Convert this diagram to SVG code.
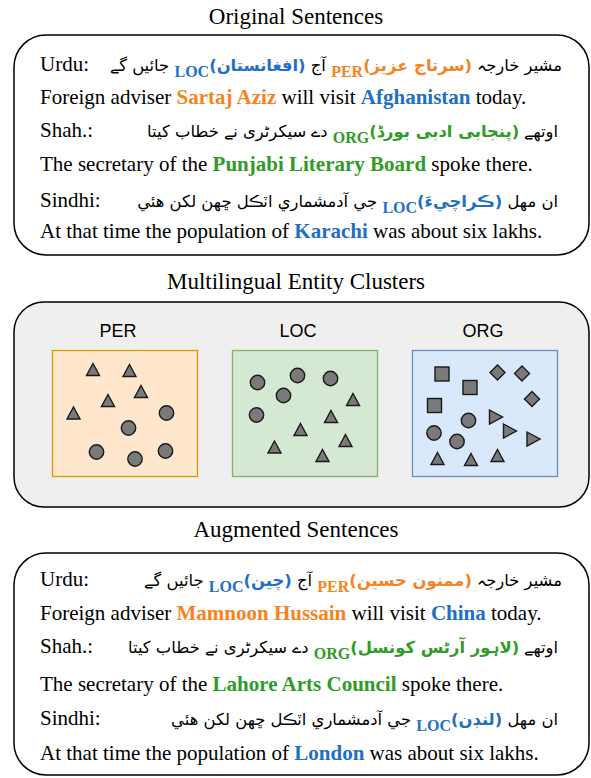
<svg xmlns="http://www.w3.org/2000/svg" xmlns:xlink="http://www.w3.org/1999/xlink" width="591" height="778" viewBox="0 0 591 778">
<style>
.title{font-family:"Liberation Serif",serif;font-size:23px;fill:#000;text-anchor:middle}
.en{font-family:"Liberation Serif",serif;font-size:21px;fill:#000}
.lab{font-family:"Liberation Serif",serif;font-size:21px;fill:#000}
.ar{font-family:"DejaVu Sans",sans-serif;font-size:16.4px;fill:#000;direction:rtl;text-anchor:start}
.b{font-weight:bold}
.sub{font-family:"Liberation Serif",serif;font-weight:bold;font-size:16px}
.o{fill:#f5841f}.bl{fill:#1f6fc4}.g{fill:#2e9c27}
.panel{fill:#fff;stroke:#000;stroke-width:1.5}
.gray{fill:#efefef;stroke:#000;stroke-width:1.5}
.cl{font-family:"Liberation Sans",sans-serif;font-size:18px;fill:#000;text-anchor:middle}
.sh{fill:#7a7a7a;stroke:#1a1a1a;stroke-width:1.4}
</style>
<defs>
<polygon id="tri" class="sh" points="0,-6.5 6.5,5.5 -6.5,5.5"/>
<circle id="cir" class="sh" r="7.2"/>
<rect id="sq" class="sh" x="-7" y="-7" width="14" height="14"/>
<polygon id="dia" class="sh" points="0,-7.5 7.5,0 0,7.5 -7.5,0"/>
<polygon id="rtri" class="sh" points="-6,-7 7,0 -6,7"/>
</defs>

<g id="original">
<text class="title" x="296" y="24">Original Sentences</text>
<rect class="panel" x="14" y="35" width="575" height="220" rx="32"/>
<text class="lab" x="40" y="71">Urdu:</text>
<text class="ar" x="562" y="71">مشیر خارجہ <tspan class="b o">(سرتاج عزیز)</tspan><tspan class="sub o" baseline-shift="-6">PER</tspan> آج <tspan class="b bl">(افغانستان)</tspan><tspan class="sub bl" baseline-shift="-6">LOC</tspan> جائیں گے</text>
<text class="en" x="40" y="104">Foreign adviser <tspan class="b o">Sartaj Aziz</tspan> will visit <tspan class="b bl">Afghanistan</tspan> today.</text>
<text class="lab" x="40" y="137">Shah.:</text>
<text class="ar" x="558" y="137">اوتھے <tspan class="b g">(پنجابی ادبی بورڈ)</tspan><tspan class="sub g" baseline-shift="-6">ORG</tspan> دے سیکرٹری نے خطاب کیتا</text>
<text class="en" x="40" y="171">The secretary of the <tspan class="b g">Punjabi Literary Board</tspan> spoke there.</text>
<text class="lab" x="40" y="207">Sindhi:</text>
<text class="ar" x="558" y="207">ان مهل <tspan class="b bl">(ڪراچيءَ)</tspan><tspan class="sub bl" baseline-shift="-6">LOC</tspan> جي آدمشماري اٽڪل ڇهن لکن هئي</text>
<text class="en" x="40" y="238">At that time the population of <tspan class="b bl">Karachi</tspan> was about six lakhs.</text>
</g>

<g id="clusters">
<text class="title" x="296" y="289">Multilingual Entity Clusters</text>
<rect class="gray" x="14" y="302" width="575" height="205" rx="30"/>
</g>

<g id="per">
<text class="cl" x="118" y="337">PER</text>
<rect x="52.5" y="350.5" width="145" height="126" fill="#ffe6cc" stroke="#d79b00" stroke-width="1.3"/>
<use href="#tri" x="93" y="370"/>
<use href="#tri" x="129.5" y="371"/>
<use href="#tri" x="141" y="392"/>
<use href="#tri" x="108" y="401"/>
<use href="#tri" x="73.5" y="413.5"/>
<use href="#cir" x="166.5" y="413"/>
<use href="#cir" x="128.5" y="428"/>
<use href="#cir" x="96.5" y="452"/>
<use href="#cir" x="135" y="459"/>
<use href="#cir" x="165.5" y="451"/>
</g>

<g id="loc">
<text class="cl" x="298" y="337">LOC</text>
<rect x="232.5" y="350.5" width="145" height="126" fill="#d5e8d4" stroke="#82b366" stroke-width="1.3"/>
<use href="#cir" x="257.5" y="382.5"/>
<use href="#cir" x="297.5" y="375.5"/>
<use href="#cir" x="330.5" y="378.5"/>
<use href="#cir" x="283.5" y="395.5"/>
<use href="#cir" x="256.5" y="415"/>
<use href="#tri" x="353" y="400"/>
<use href="#tri" x="331" y="417"/>
<use href="#tri" x="300.5" y="430"/>
<use href="#tri" x="345.5" y="441"/>
<use href="#tri" x="274.5" y="447.5"/>
<use href="#tri" x="322.5" y="456"/>
</g>

<g id="org">
<text class="cl" x="483" y="337">ORG</text>
<rect x="412.5" y="350.5" width="145" height="126" fill="#dae8fc" stroke="#6c8ebf" stroke-width="1.3"/>
<use href="#sq" x="442" y="374"/>
<use href="#sq" x="470" y="387.5"/>
<use href="#sq" x="434.5" y="405.5"/>
<use href="#dia" x="497.5" y="372.5"/>
<use href="#dia" x="522" y="373.5"/>
<use href="#dia" x="532" y="399"/>
<use href="#cir" x="468.5" y="420.5"/>
<use href="#cir" x="434" y="433"/>
<use href="#cir" x="457" y="441.5"/>
<use href="#rtri" x="495.5" y="417"/>
<use href="#rtri" x="509.5" y="431"/>
<use href="#rtri" x="533" y="439"/>
<use href="#tri" x="437.5" y="459"/>
<use href="#tri" x="471" y="460"/>
<use href="#tri" x="497.5" y="456"/>
</g>

<g id="augmented">
<text class="title" x="296" y="537">Augmented Sentences</text>
<rect class="panel" x="14" y="553" width="575" height="222" rx="32"/>
<text class="lab" x="40" y="586">Urdu:</text>
<text class="ar" x="562" y="586">مشیر خارجہ <tspan class="b o">(ممنون حسین)</tspan><tspan class="sub o" baseline-shift="-6">PER</tspan> آج <tspan class="b bl">(چین)</tspan><tspan class="sub bl" baseline-shift="-6">LOC</tspan> جائیں گے</text>
<text class="en" x="40" y="620">Foreign adviser <tspan class="b o">Mamnoon Hussain</tspan> will visit <tspan class="b bl">China</tspan> today.</text>
<text class="lab" x="40" y="653">Shah.:</text>
<text class="ar" x="558" y="653">اوتھے <tspan class="b g">(لاہور آرٹس کونسل)</tspan><tspan class="sub g" baseline-shift="-6">ORG</tspan> دے سیکرٹری نے خطاب کیتا</text>
<text class="en" x="40" y="691">The secretary of the <tspan class="b g">Lahore Arts Council</tspan> spoke there.</text>
<text class="lab" x="40" y="725">Sindhi:</text>
<text class="ar" x="558" y="725">ان مهل <tspan class="b bl">(لنڊن)</tspan><tspan class="sub bl" baseline-shift="-6">LOC</tspan> جي آدمشماري اٽڪل ڇهن لکن هئي</text>
<text class="en" x="40" y="760">At that time the population of <tspan class="b bl">London</tspan> was about six lakhs.</text>
</g>
</svg>
